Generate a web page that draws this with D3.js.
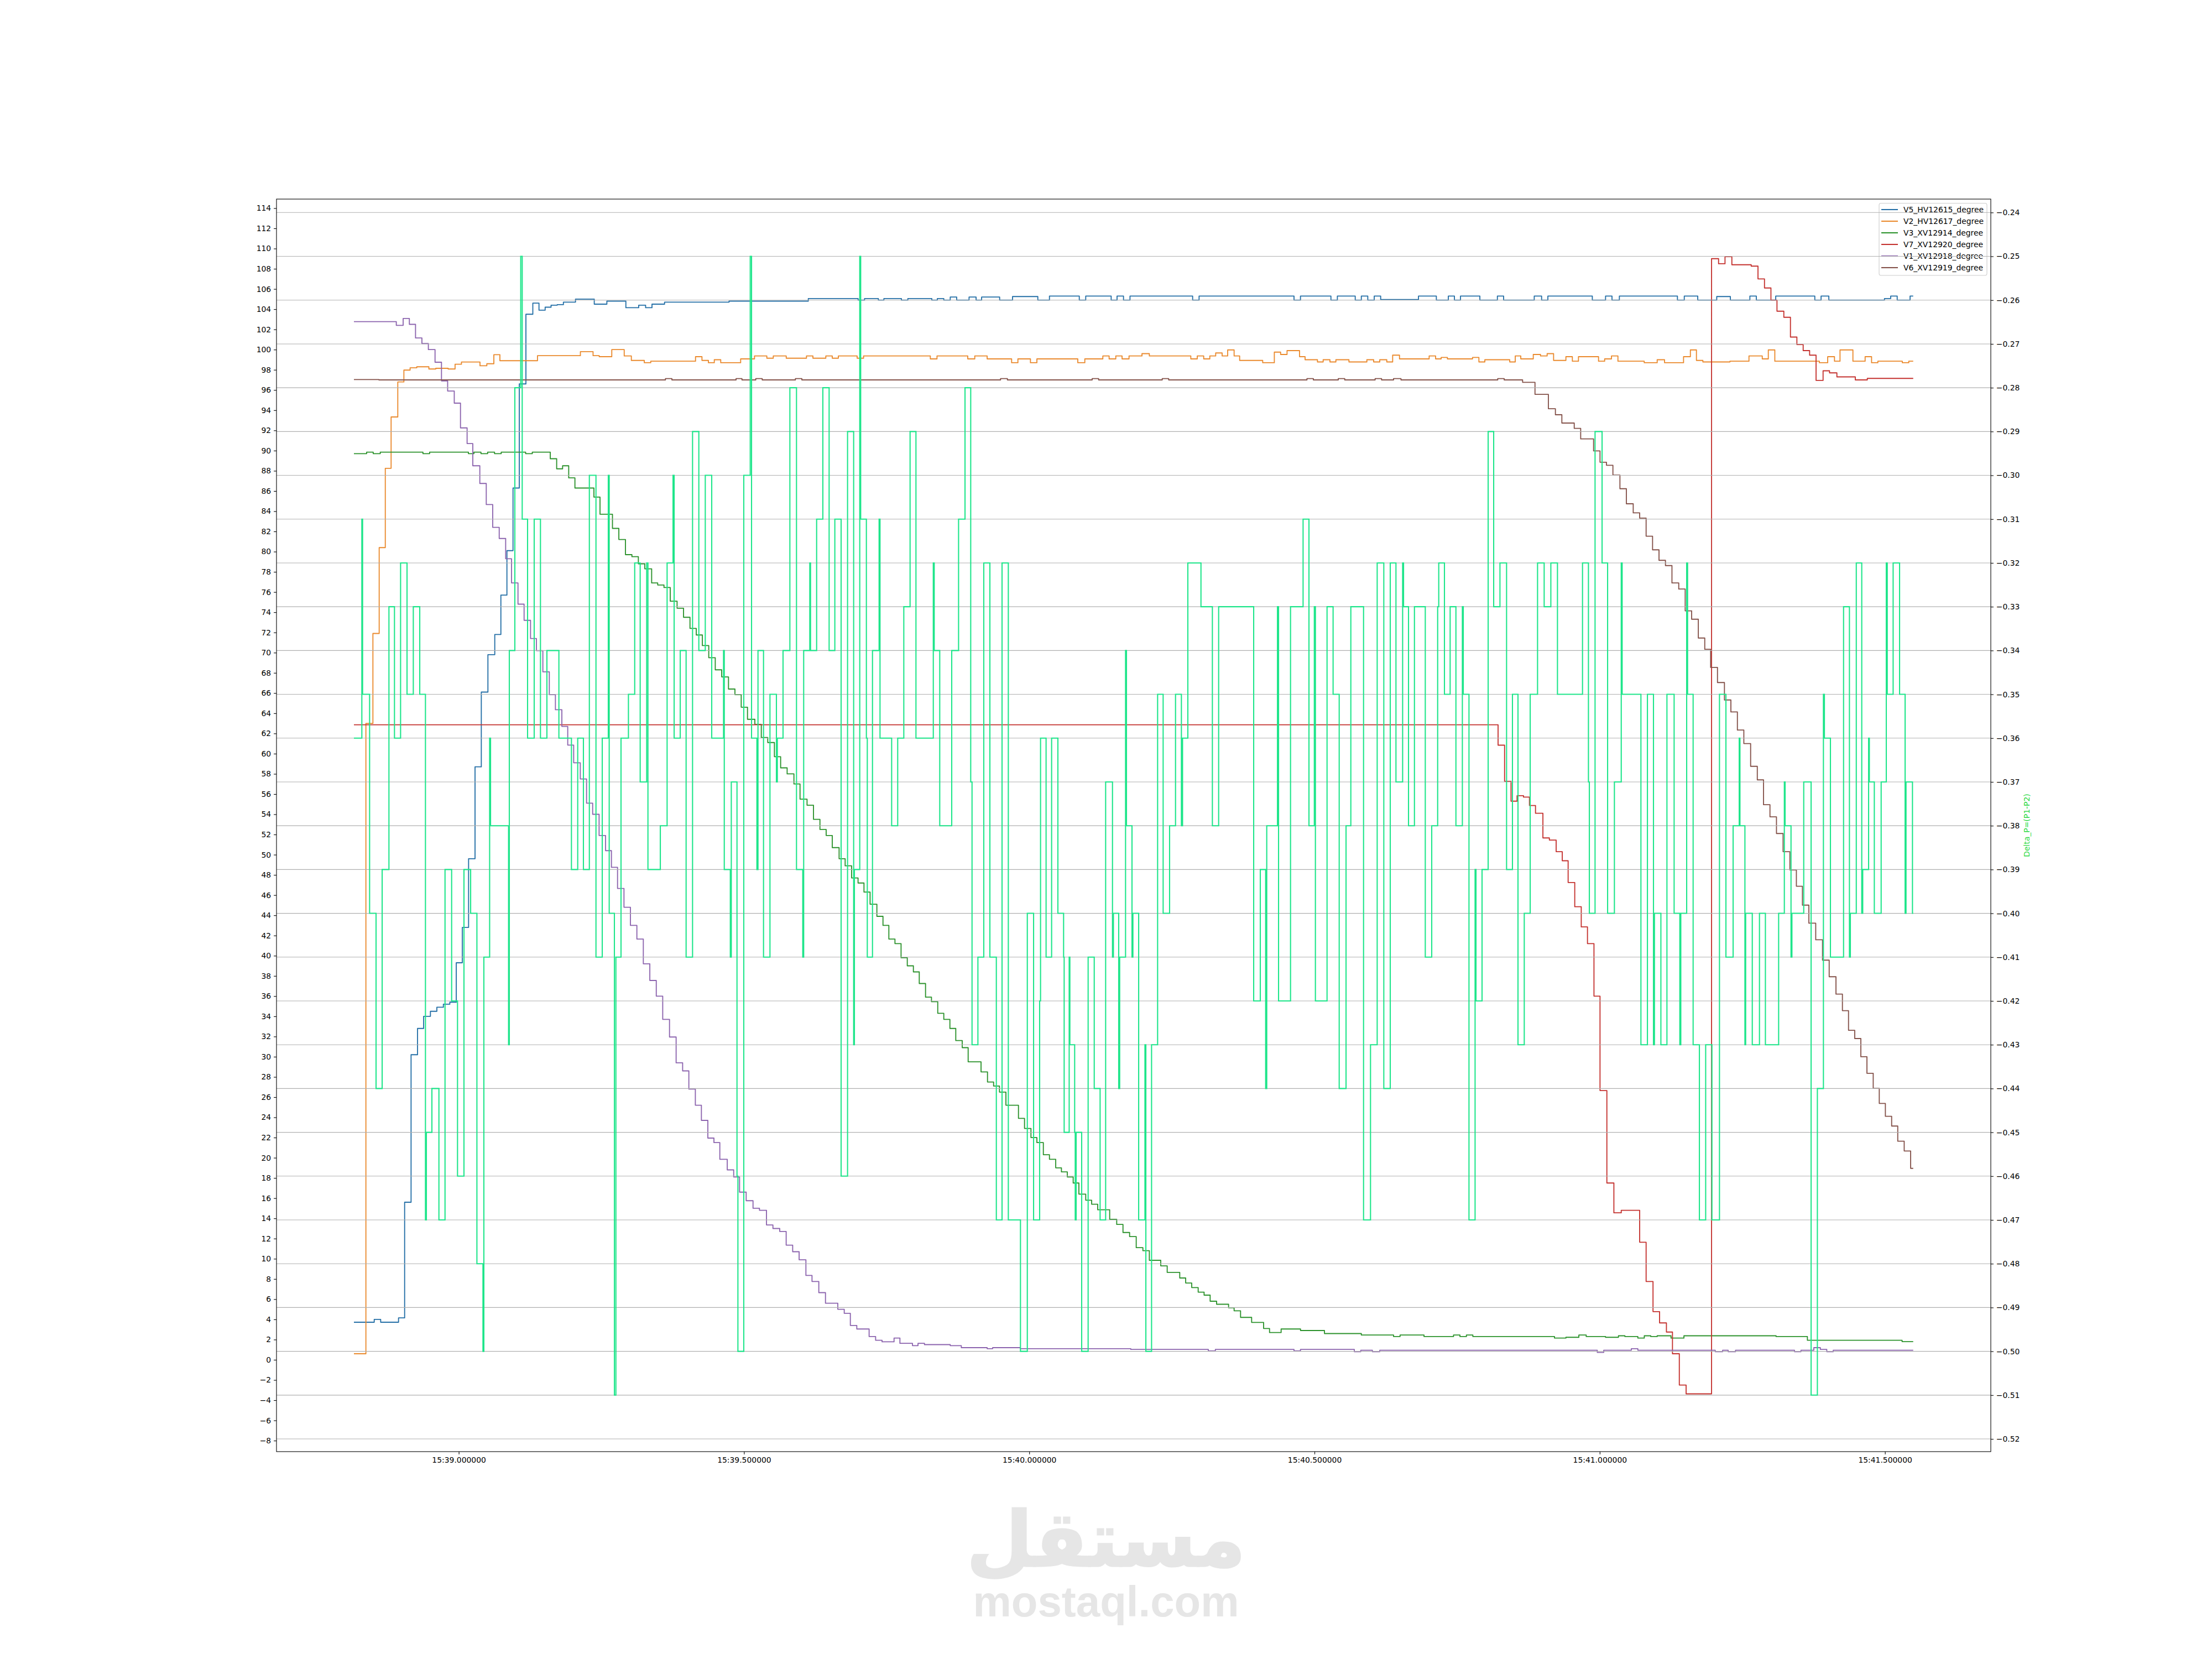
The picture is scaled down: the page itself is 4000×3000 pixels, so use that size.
<!DOCTYPE html>
<html><head><meta charset="utf-8">
<script src="https://cdn.jsdelivr.net/npm/d3@7"></script>
<style>html,body{margin:0;background:#fff}svg{display:block}text{font-family:"DejaVu Sans"}</style>
</head><body><svg id="c" width="4000" height="3000"></svg>
<script>
// time = ms after the 15:39.000000 tick
const xTickValues=[0,500,1000,1500,2000,2500];
const xTickLabels=["15:39.000000","15:39.500000","15:40.000000","15:40.500000","15:41.000000","15:41.500000"];
const leftTicks=d3.range(-8,115,2);
const rightTicks=d3.range(-52,-23,1).map(d=>d/100);
const endTime=2549.5;
const v5=[[-183.8,3.72],[-148.2,4],[-136.9,3.72],[-105.6,4.15],[-94.9,15.6],[-83.6,30.2],[-72.3,32.8],[-61.6,34],[-49.7,34.5],[-38.4,34.9],[-27,35.2],[-15.7,35.4],[-4.4,39.3],[6.2,42.8],[17.2,49.6],[28.5,58.7],[39.5,66.1],[51.1,69.8],[63.1,71.8],[73.8,75.7],[84.4,80.1],[95.1,86.3],[106.1,96.6],[117.7,103.5],[129.8,104.6],[140.6,103.9],[151.4,104.2],[161.8,104.4],[172.6,104.45],[183.4,104.7],[204.6,105],[237.5,104.5],[259.6,104.8],[292.9,104.15],[315.4,104.4],[327.5,104.15],[338.7,104.5],[360.7,104.7],[473.8,104.8],[612.7,105.05],[700,104.9],[711.3,105.05],[735.5,104.9],[745.2,105.05],[775.9,104.9],[787.2,105.05],[829.2,104.9],[838.9,105.05],[850.2,104.9],[861.5,105.2],[872.8,104.9],[894.5,105.2],[906.8,104.9],[916.5,105.2],[948.1,104.9],[970.7,105.25],[1015,104.9],[1035.4,105.3],[1087.7,104.9],[1099,105.3],[1143.6,104.9],[1153.9,105.3],[1165.2,104.9],[1176.6,105.3],[1286.4,104.9],[1297.7,105.3],[1464.1,104.9],[1475.4,105.3],[1528.8,104.9],[1540.1,105.3],[1571.4,104.9],[1582.1,105.3],[1593.4,104.9],[1604.7,105.3],[1616,104.95],[1682.3,105.3],[1713.6,104.9],[1734.6,105.3],[1745.3,104.9],[1755.9,105.3],[1789.9,104.9],[1820.6,105.3],[1831.5,104.9],[1885.2,105.3],[1898.1,104.9],[1909.1,105.3],[1987,104.9],[2010.2,105.3],[2021.5,104.9],[2034.4,105.3],[2136.2,104.9],[2148.2,105.3],[2171.8,104.9],[2205.1,105.25],[2229,104.9],[2263.2,105.3],[2274.5,104.9],[2308.5,105.3],[2377,104.9],[2388,105.3],[2401.6,104.9],[2499.1,105.05],[2510,105.3],[2521.4,104.9],[2544,105.3]];
const v2=[[-183.8,0.6],[-162.8,63],[-150.5,71.9],[-139.5,80.4],[-128.8,88.25],[-118.6,93.33],[-106.9,96.8],[-96.2,97.97],[-85.3,98.2],[-73.6,98.3],[-52.4,98.08],[-40.3,98.15],[-18.6,98.08],[-6.5,98.55],[4.7,98.77],[37.2,98.4],[49.2,98.6],[61.5,99.5],[72.1,98.9],[138,99.4],[213.2,99.8],[235.4,99.4],[246.2,99.3],[268.2,100],[290,99.37],[302.5,98.93],[325.2,98.7],[336.5,98.85],[415,99.3],[426.3,98.93],[437.6,98.7],[447.9,99],[459.2,98.7],[494.1,99.08],[518.4,99.37],[540,99.15],[551.3,99.37],[574,99.15],[609.5,99.37],[620.8,99.15],[643.4,99.37],[654.7,99.15],[665.4,99.37],[698.3,99.15],[709.6,99.37],[826.6,99.08],[838.3,99.37],[892.2,99.08],[904.5,99.37],[926.2,99.08],[969.1,98.7],[980.1,99.08],[1002.1,98.7],[1013.4,99.08],[1085.1,98.7],[1097.4,99.08],[1129,99.37],[1140,99.08],[1151.7,99.37],[1162.7,99.08],[1174.9,99.37],[1197.6,99.6],[1210.5,99.37],[1283.2,99.08],[1294.5,99.37],[1305.8,99.08],[1316.5,99.37],[1326.8,99.67],[1338.1,99.37],[1347.8,99.97],[1359.1,99.37],[1368.8,98.93],[1409.2,98.7],[1429.6,99.75],[1440.6,99.52],[1451.9,99.9],[1473.8,99.3],[1483.5,99],[1505.2,98.78],[1515.2,99],[1527.1,98.78],[1537.5,99],[1560.4,98.78],[1591.8,99],[1603.7,98.78],[1614.4,99],[1626.7,98.78],[1637,99.45],[1649,99.08],[1701,99.37],[1712.3,99.08],[1722,99.22],[1733,99.08],[1777,99.22],[1788.2,98.78],[1798.6,99],[1842.2,98.78],[1851.9,99.37],[1861.6,99.08],[1883.5,99.52],[1896.2,99.37],[1907.8,99.6],[1919.1,98.93],[1940.7,99.3],[1952,98.85],[1962.7,99.3],[1997.9,98.85],[2008.6,99.08],[2020.6,99.37],[2031.9,98.85],[2078,98.7],[2100.7,99],[2113.6,98.7],[2146.9,99.3],[2158.9,99.97],[2169.5,98.93],[2180.8,98.78],[2228.3,98.85],[2261.6,99.37],[2284.9,99.08],[2295.5,99.97],[2306.9,98.85],[2385,98.7],[2399.6,99.3],[2411.5,98.85],[2421.2,99.97],[2443.8,98.85],[2465.2,99.3],[2476.5,98.7],[2487.5,98.85],[2530.4,98.7],[2541.7,98.85]];
const v3=[[-183.8,89.7],[-161.5,89.85],[-150,89.7],[-137.6,89.85],[-62.8,89.7],[-51.1,89.85],[16.9,89.7],[26.6,89.85],[38.9,89.7],[50.6,89.85],[62.7,89.7],[74.4,89.85],[117.2,89.7],[128.9,89.85],[160.4,89.2],[171.6,88.2],[182,88.5],[192.7,87.3],[203.6,86.3],[236.9,85.4],[247.6,83.7],[269.4,82.3],[280.6,81.2],[292.2,79.7],[303.5,79.5],[314.8,78.8],[326.1,78.3],[338.1,76.9],[348.7,76.7],[359.7,76.45],[370.7,75.1],[382.7,74.4],[394,73.5],[405.3,72.4],[416.3,71.75],[427,70.7],[438.2,69.5],[449.6,68.3],[460.9,67.6],[472.8,66.4],[484.1,65.85],[495.1,64.6],[506.1,63.4],[519,62.9],[530.3,61.6],[541.6,61.1],[553.3,59.7],[564.2,58.6],[575.6,58],[587.5,57],[598.2,55.5],[610.5,54.9],[621.8,53.5],[633.1,52.5],[644,51.9],[654.7,50.7],[666.7,49.6],[677.3,48.9],[688.6,47.7],[699.9,47.2],[710.3,46.3],[721,45.1],[732.9,43.9],[743.6,43],[753.9,41.65],[764.6,41.2],[775.3,39.8],[786.2,39],[796.9,38.4],[807.2,37.25],[818.2,35.9],[828.6,35.45],[839.6,34.3],[850.2,33.7],[860.9,32.8],[871.2,31.6],[882.5,30.9],[892.9,29.5],[915.5,28.5],[926.8,27.5],[937.5,27.1],[947.8,26.5],[959.1,25.2],[981.1,23.9],[991.7,22.9],[1003,22],[1013.4,21.5],[1024.7,20.3],[1035.4,19.85],[1046.4,19],[1056.4,18.6],[1066.7,18.1],[1077,17.5],[1087,16.4],[1099,15.8],[1109.4,15.4],[1120,14.85],[1141,13.9],[1153.3,13.4],[1164.3,12.6],[1175.9,12.2],[1187.5,11.1],[1199.2,10.8],[1210.5,9.85],[1230.5,9.3],[1241.8,8.65],[1263.8,8.1],[1274.2,7.6],[1284.8,7.15],[1296.1,6.7],[1306.5,6.4],[1317.1,5.8],[1328.4,5.5],[1349.4,5.15],[1359.1,4.85],[1370.4,4.2],[1389.8,3.7],[1410.8,3.1],[1421.2,2.7],[1441.5,3.05],[1475.5,2.9],[1517.5,2.6],[1582.1,2.45],[1638.6,2.3],[1650,2.45],[1692,2.3],[1743.7,2.45],[1755,2.3],[1766.3,2.45],[1777.6,2.3],[1920.7,2.15],[1940.7,2.23],[1963.4,2.45],[1976.3,2.3],[2010.2,2.23],[2032.8,2.38],[2044.1,2.3],[2066.8,2.15],[2078.1,2.38],[2089.4,2.3],[2100.7,2.38],[2124.9,2.15],[2147.6,2.38],[2309.1,2.3],[2364,1.93],[2530,1.8]];
const v7=[[-183.8,62.86],[1821.8,60.84],[1833.2,57.26],[1844.5,55.3],[1855.1,55.84],[1866.4,55.7],[1876.8,54.87],[1887.4,54.1],[1900.4,51.66],[1911.7,51.45],[1923.6,50.3],[1934.3,49.4],[1944.6,47.25],[1956.2,44.85],[1967.6,42.85],[1978.5,41.2],[1989.9,36],[2000.5,26.65],[2012.5,17.5],[2024.8,14.55],[2037.7,14.8],[2070,11.64],[2081.3,7.75],[2093.4,4.77],[2104.9,3.65],[2116.9,2.75],[2127.5,0.6],[2139.5,-2.5],[2151.4,-3.37],[2196,109],[2208.3,108.5],[2219.6,109.2],[2231.6,108.4],[2265.5,108.26],[2277.4,107],[2288.8,106.1],[2300.1,104.9],[2310.7,103.8],[2322.7,103.2],[2334.3,101.24],[2345.6,100.5],[2356.6,99.9],[2367.9,99.45],[2379.2,96.95],[2391.5,97.9],[2402.8,97.7],[2415.7,97.3],[2448,97],[2469,97.15]];
const v1=[[-183.8,102.77],[-109.5,102.4],[-97.5,103.08],[-86.6,102.5],[-75.8,101.15],[-64.6,100.6],[-53.3,100],[-41.6,98.75],[-30.3,96.9],[-19.5,95.9],[-7.9,94.7],[3,92.25],[14.6,90.7],[24.6,88.5],[36.9,86.75],[48.2,84.66],[59.5,82.4],[70.9,81.3],[82.2,79.3],[92.5,76.9],[103.8,74.8],[114.5,73.2],[125.8,71.4],[136.1,70.2],[147.4,68.1],[158.7,65.85],[169.4,64.35],[180.7,62.7],[191,60.85],[201.4,59.1],[213,57.5],[224,55.1],[234.7,54],[246,51.9],[257.3,50.4],[267.6,48.75],[278.3,46.66],[289.6,44.8],[300.9,43],[312.2,41.65],[323.5,39.2],[334.9,37.55],[346.2,36],[357.5,33.7],[369.4,31.95],[381,29.4],[392.4,28.6],[403.3,26.8],[414.7,25.2],[425.3,23.7],[436.6,21.95],[447.3,21.5],[457.6,19.85],[470.6,18.8],[481.9,18.1],[492.2,16.6],[503.8,15.75],[515.8,15],[527.1,14.8],[539.4,13.35],[550.7,13],[562.6,12.7],[573.9,11.35],[585.3,10.7],[596.6,9.9],[608.5,8.35],[619.2,7.75],[631.1,6.65],[642.8,5.6],[664.4,5],[675.7,4.6],[686.4,3.4],[697.7,3.05],[719.3,2.3],[730.7,1.93],[742,1.78],[763,2.15],[773.3,1.63],[795.3,1.4],[805,1.63],[816.3,1.5],[861.5,1.4],[880.9,1.2],[926.2,1.1],[935.8,1.2],[984.3,1.1],[1178,1.03],[1313.9,0.88],[1326.2,1.03],[1464.1,0.88],[1475.4,1.03],[1569.8,0.8],[1581.1,0.95],[1601.5,0.8],[1614.4,0.95],[1995.7,0.73],[2007,0.95],[2055.4,1.1],[2066.8,0.95],[2202.5,0.8],[2215.4,0.95],[2225.1,0.8],[2238,0.95],[2341.4,0.8],[2352.7,0.95],[2375.3,1.2],[2386.7,1.03],[2398,0.8],[2409.3,0.95]];
const v6=[[-183.8,97.03],[-140,97],[362.3,97.13],[373.6,97],[486.1,97.13],[496.4,97],[520.6,97.13],[531.9,97],[590.1,97.13],[601.4,97],[949.7,97.13],[961.7,97],[1110.3,97.13],[1121.6,97],[1233.1,97.13],[1244.4,97],[1486.8,97.13],[1498,97],[1541.7,97.13],[1553,97],[1606.3,97.13],[1617.6,97],[1638.6,97.13],[1651.6,97],[1821.2,97.13],[1832.5,97],[1864.8,96.76],[1886.5,95.57],[1910,94.15],[1922.3,93.55],[1933.6,92.73],[1955.3,92.2],[1966.6,91.16],[1989.2,89.97],[2000.5,88.85],[2011.8,88.55],[2023.1,87.58],[2035.4,86.23],[2046.7,84.74],[2058.7,83.84],[2070,83.32],[2081.3,81.53],[2092.6,80.18],[2103.9,79.14],[2115.2,78.62],[2126.6,76.9],[2138.5,76.3],[2149.8,74.14],[2161.1,73.31],[2172.8,71.45],[2184.1,70.33],[2194.4,68.54],[2206.4,67.04],[2218.6,65.32],[2229.9,64.13],[2241.3,62.34],[2252.6,61],[2264.5,58.75],[2276.2,57.41],[2287.1,54.95],[2298.4,53.75],[2309.8,52.1],[2321.4,50.3],[2333.3,48.5],[2344.7,46.88],[2355.3,45.01],[2366.6,43.22],[2378.6,41.58],[2390.5,39.56],[2402.2,37.92],[2414.1,36.2],[2425.4,34.56],[2436.1,32.62],[2447,31.8],[2457.7,30],[2468.4,28.36],[2479.4,26.87],[2490,25.38],[2500.7,24.1],[2511.7,23.14],[2522.4,21.64],[2533.7,20.67],[2545,18.95]];
const deltaP=[[-183.8,-.36],[-169.9,-.31],[-168.6,-.35],[-156.3,-.40],[-145,-.44],[-134.3,-.39],[-122.4,-.33],[-112.7,-.36],[-102,-.32],[-90.7,-.35],[-79.7,-.33],[-68.4,-.35],[-58.4,-.47],[-56.8,-.45],[-47.1,-.44],[-34.8,-.47],[-24.1,-.39],[-12.5,-.42],[-2.2,-.46],[9.1,-.39],[20.8,-.40],[31.8,-.48],[42.4,-.50],[44,-.41],[54.1,-.36],[55.7,-.38],[87.3,-.43],[88.6,-.34],[98.3,-.28],[108.6,-.25],[111.2,-.31],[120.6,-.36],[132.2,-.31],[143.2,-.36],[154.5,-.34],[175.5,-.36],[197.5,-.39],[208.5,-.36],[218.5,-.39],[228.9,-.30],[240.5,-.41],[251.5,-.36],[262.1,-.30],[263.7,-.40],[272.8,-.51],[275.4,-.41],
[284.4,-.36],[297.4,-.35],[308.4,-.32],[318,-.37],[329.4,-.32],[331.6,-.39],[353.3,-.38],[365.2,-.32],[375.6,-.30],[377.5,-.36],[388.2,-.34],[398.5,-.41],[409.8,-.29],[420.8,-.34],[432.1,-.30],[443.4,-.36],[464.1,-.34],[465.4,-.39],[476,-.41],[477.7,-.37],[487.7,-.46],[489.3,-.50],[499.6,-.30],[510.9,-.25],[513.2,-.36],[522.6,-.39],[524.5,-.34],[534.2,-.41],[545.5,-.35],[556.8,-.37],[558.4,-.36],[568.4,-.34],[580.4,-.28],[592,-.39],[603,-.41],[604.6,-.34],[615.3,-.32],[616.6,-.34],[627.3,-.31],[638.2,-.28],[649.2,-.34],[659.2,-.31],[670.2,-.46],[681.5,-.29],[692.2,-.43],[693.5,-.39],[702.9,-.25],[704.5,-.31],[714.5,-.36],[716.1,-.41],[725.2,-.34],
[736.8,-.31],[738.4,-.36],[758.8,-.38],[769.4,-.36],[780.1,-.33],[791.1,-.29],[801.4,-.36],[831.8,-.32],[833.4,-.34],[843.1,-.38],[864.1,-.34],[876.1,-.31],[887.4,-.28],[897.4,-.37],[899.7,-.43],[910,-.41],[920.3,-.32],[931,-.41],[942.3,-.47],[952.3,-.32],[963.3,-.47],[984.6,-.50],[996.6,-.40],[1007.6,-.47],[1018.2,-.42],[1019.8,-.36],[1029.5,-.41],[1039.2,-.36],[1050.2,-.40],[1060.2,-.41],[1061.2,-.45],[1070,-.41],[1071.2,-.43],[1079.6,-.45],[1080.6,-.47],[1082.2,-.45],[1091.9,-.50],[1103.2,-.41],[1113.9,-.44],[1124.2,-.47],[1133.9,-.37],[1145.9,-.41],[1147.5,-.40],[1156.8,-.44],[1158.5,-.41],[1168.8,-.34],[1170.4,-.38],[1180.1,-.41],[1181.7,-.40],
[1191.8,-.47],[1202.8,-.43],[1204.4,-.50],[1214.4,-.43],[1225,-.35],[1234.7,-.40],[1246,-.38],[1256.4,-.35],[1266.7,-.38],[1268.7,-.36],[1278,-.32],[1301,-.33],[1321,-.38],[1332,-.33],[1393.4,-.42],[1405,-.39],[1414.4,-.44],[1416.3,-.38],[1435.1,-.33],[1437,-.42],[1458,-.33],[1480,-.31],[1490.3,-.38],[1499.7,-.33],[1501.6,-.42],[1522,-.33],[1532.6,-.35],[1543.3,-.44],[1555.3,-.38],[1563.7,-.33],[1586,-.47],[1598.2,-.43],[1609.9,-.32],[1621.5,-.44],[1632.8,-.32],
[1642.8,-.37],[1654.5,-.32],[1656.1,-.33],[1664.8,-.38],[1675.2,-.33],[1694.2,-.41],[1705.5,-.38],[1715.9,-.33],[1717.8,-.32],[1727.8,-.35],[1737.8,-.33],[1747.9,-.38],[1759.2,-.33],[1760.8,-.35],[1770.8,-.47],[1781.5,-.39],[1783.1,-.42],[1793.7,-.39],[1804.4,-.29],[1814.1,-.33],[1825.1,-.32],[1836.7,-.39],[1847,-.35],[1856.7,-.43],[1867.7,-.40],[1878.1,-.35],[1891,-.32],[1902.6,-.33],[1914.3,-.32],[1925.9,-.35],[1969.8,-.32],[1980.2,-.37],[1981.8,-.40],[1991.8,-.29],[2004.1,-.32],[2013.8,-.40],[2025.7,-.37],[2037.7,-.32],[2039.3,-.35],[2072.2,-.43],[2083.6,-.35],
[2094.2,-.43],[2095.9,-.40],[2107.2,-.43],[2117.8,-.35],[2130.4,-.40],[2140.4,-.43],[2142.1,-.40],[2152.4,-.32],[2154,-.35],[2163.7,-.43],[2174.7,-.47],[2185.7,-.43],[2196.7,-.47],[2209.9,-.35],[2221.2,-.41],[2233.8,-.38],[2244.5,-.36],[2245.8,-.38],[2254.5,-.43],[2255.8,-.40],[2267.4,-.43],[2280,-.40],[2290.4,-.43],[2313.6,-.40],[2323.6,-.37],[2324.9,-.38],[2335.3,-.41],[2336.9,-.40],[2357.6,-.37],[2370.5,-.51],[2381.5,-.44],[2392.1,-.35],[2393.8,-.36],[2404.4,-.41],[2427.4,-.33],[2437.7,-.41],[2439.3,-.40],[2449.7,-.32],[2459.3,-.40],[2461,-.39],[2471.3,-.36],[2472.6,-.37],[2481.3,-.40],[2493.3,-.37],[2502.3,-.32],[2504,-.35],[2514.3,-.32],[2525.6,-.35],[2535.3,-.40],[2536.9,-.37],[2548.2,-.40]];
const seriesNames=["V5_HV12615_degree","V2_HV12617_degree","V3_XV12914_degree","V7_XV12920_degree","V1_XV12918_degree","V6_XV12919_degree"];
const seriesData=[v5,v2,v3,v7,v1,v6];
const seriesColors=["#246fa6","#ea8a2e","#2c922c","#c4322f","#8c64ae","#84524a"];
const rightLabel="Delta_P=(P1-P2)";
const watermarkAr="مستقل", watermarkEn="mostaql.com";

const L=500,R=3600,T=360,B=2625;
const x=d3.scaleLinear().domain([-319.5,2685.5]).range([L,R]);
const y=d3.scaleLinear().domain([-9.09,114.9]).range([B,T]);
const y2=d3.scaleLinear().domain([-0.5229,-0.23693]).range([B,T]);
const svg=d3.select("#c");
const finish=s=>s.concat([[endTime,s[s.length-1][1]]]);
const lineL=d3.line().x(d=>x(d[0])).y(d=>y(d[1])).curve(d3.curveStepAfter);
const lineR=d3.line().x(d=>x(d[0])).y(d=>y2(d[1])).curve(d3.curveStepAfter);

// watermark
svg.append("text").attr("x",2000).attr("y",2832).attr("text-anchor","middle").attr("direction","rtl")
 .style("font-family","'DejaVu Sans'").style("font-weight","bold").style("font-size","138px").attr("fill","#e6e6e6").attr("stroke","#e6e6e6").attr("stroke-width",3).text(watermarkAr);
svg.append("text").attr("x",2000).attr("y",2923).attr("text-anchor","middle")
 .style("font-family","'Liberation Sans'").style("font-weight","bold").style("font-size","78px").attr("fill","#e6e6e6").text(watermarkEn);

// left series
svg.append("g").selectAll("path").data(seriesData).join("path")
 .attr("d",d=>lineL(finish(d))).attr("fill","none").attr("stroke-width",1.85)
 .attr("stroke",(d,i)=>seriesColors[i]).attr("stroke-linejoin","round");

// legend
const lg=svg.append("g");
lg.append("rect").attr("x",3398).attr("y",367.5).attr("width",195).attr("height",130.5).attr("rx",3.5)
 .attr("fill","#fff").attr("fill-opacity",.8).attr("stroke","#cccccc").attr("stroke-width",1.1);
seriesNames.forEach((n,i)=>{
 const yy=379+i*21;
 lg.append("line").attr("x1",3402).attr("x2",3432).attr("y1",yy).attr("y2",yy).attr("stroke",seriesColors[i]).attr("stroke-width",2.08);
 lg.append("text").attr("x",3442).attr("y",yy+5).style("font-size","13.9px").text(n);
});

// grid from the right axis
svg.append("g").selectAll("line").data(rightTicks).join("line")
 .attr("x1",L).attr("x2",R).attr("y1",d=>y2(d)).attr("y2",d=>y2(d)).attr("stroke","#b0b0b0").attr("stroke-width",1.1);

// delta-P
svg.append("path").attr("d",lineR(finish(deltaP))).attr("fill","none").attr("stroke","#1ee58a").attr("stroke-width",2.08);

// frame
svg.append("rect").attr("x",L).attr("y",T).attr("width",R-L).attr("height",B-T).attr("fill","none").attr("stroke","#000").attr("stroke-width",1.1);

const styleAxis=g=>{g.select(".domain").remove();g.selectAll("line").attr("stroke-width",1.1).attr("stroke","#000");g.selectAll("text").style("font-family","'DejaVu Sans'").style("font-size","13.9px").attr("fill","#000");};
svg.append("g").attr("transform",`translate(${L},0)`).call(d3.axisLeft(y).tickValues(leftTicks).tickFormat(d=>String(d).replace("-","\u2212")).tickSize(4.9).tickPadding(4.9)).call(styleAxis);
svg.append("g").attr("transform",`translate(${R},0)`).call(d3.axisRight(y2).tickValues(rightTicks).tickFormat(d=>d3.format(".2f")(d).replace("-","\u2212")).tickSize(4.9).tickPadding(4.9)).call(styleAxis);
svg.append("g").attr("transform",`translate(0,${B})`).call(d3.axisBottom(x).tickValues(xTickValues).tickFormat((d,i)=>xTickLabels[i]).tickSize(4.9).tickPadding(4.9)).call(styleAxis);
svg.append("text").attr("transform",`translate(3670,1492.5) rotate(-90)`).attr("text-anchor","middle").style("font-size","13.9px").attr("fill","#2bd83f").text(rightLabel);
</script></body></html>
